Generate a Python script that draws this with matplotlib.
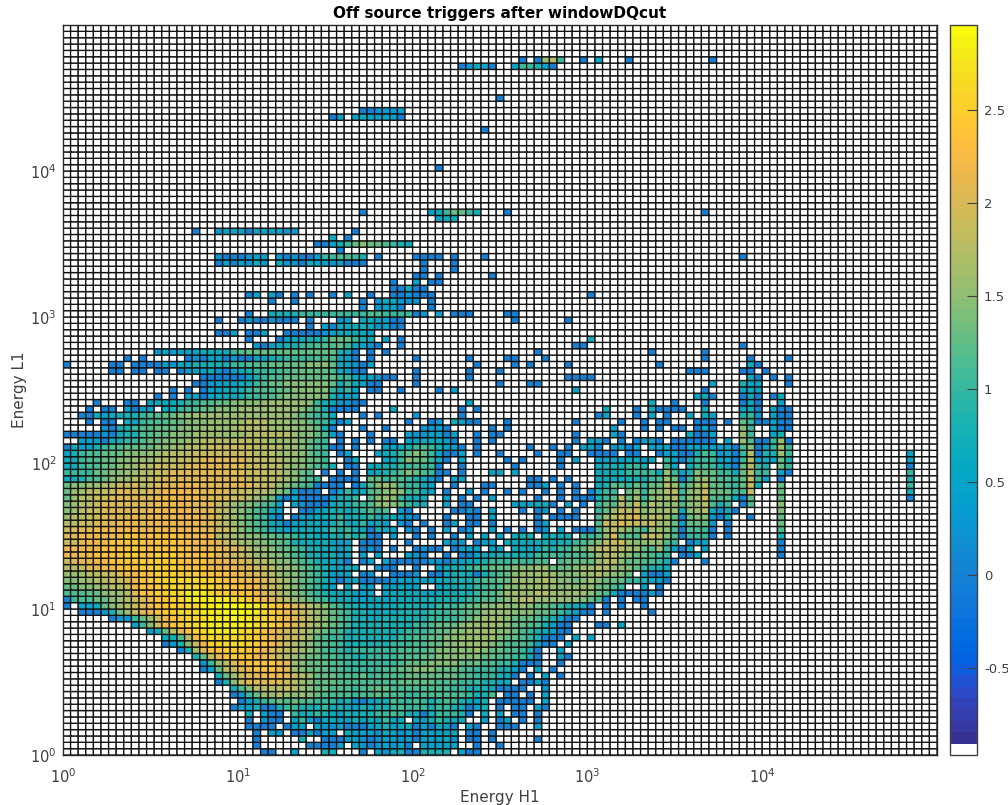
import numpy as np
import matplotlib
matplotlib.use("Agg")
import matplotlib.pyplot as plt
from matplotlib.colors import ListedColormap, Normalize

TITLE = "Off source triggers after windowDQcut"
XLABEL = "Energy H1"
YLABEL = "Energy L1"
NBINS = 115
CB_MIN, CB_MAX = -0.968, 2.957
CB_TICKS = [-0.5, 0, 0.5, 1, 1.5, 2, 2.5]
CB_LABELS = ["-0.5", "0", "0.5", "1", "1.5", "2", "2.5"]
AXIS_TICKS = [1, 10, 100, 1000, 10000]

LEVELS = dict(zip("abcdefghijklmnopqrs",
    [0, .3, .48, .65, .8, 1, 1.15, 1.3, 1.45, 1.6, 1.75, 1.9, 2.05, 2.2, 2.35, 2.5, 2.65, 2.8, 2.95]))

PARULA = [
(0.2081,0.1663,0.5292),(0.2116,0.1898,0.5777),(0.2123,0.2138,0.6270),(0.2081,0.2386,0.6771),
(0.1959,0.2645,0.7279),(0.1707,0.2919,0.7792),(0.1253,0.3242,0.8303),(0.0591,0.3598,0.8683),
(0.0117,0.3875,0.8820),(0.0060,0.4086,0.8828),(0.0165,0.4266,0.8786),(0.0329,0.4430,0.8720),
(0.0498,0.4586,0.8641),(0.0629,0.4737,0.8554),(0.0723,0.4887,0.8467),(0.0779,0.5040,0.8384),
(0.0793,0.5200,0.8312),(0.0749,0.5375,0.8263),(0.0641,0.5570,0.8240),(0.0488,0.5772,0.8228),
(0.0343,0.5966,0.8199),(0.0265,0.6137,0.8135),(0.0239,0.6287,0.8038),(0.0231,0.6418,0.7913),
(0.0228,0.6535,0.7768),(0.0267,0.6642,0.7607),(0.0384,0.6743,0.7436),(0.0590,0.6838,0.7254),
(0.0843,0.6928,0.7062),(0.1133,0.7015,0.6859),(0.1453,0.7098,0.6646),(0.1801,0.7177,0.6424),
(0.2178,0.7250,0.6193),(0.2586,0.7317,0.5954),(0.3022,0.7376,0.5712),(0.3482,0.7424,0.5473),
(0.3953,0.7459,0.5244),(0.4420,0.7481,0.5033),(0.4871,0.7491,0.4840),(0.5300,0.7491,0.4661),
(0.5709,0.7485,0.4494),(0.6099,0.7473,0.4337),(0.6473,0.7456,0.4188),(0.6834,0.7435,0.4044),
(0.7184,0.7411,0.3905),(0.7525,0.7384,0.3768),(0.7858,0.7356,0.3633),(0.8185,0.7327,0.3498),
(0.8507,0.7299,0.3360),(0.8824,0.7274,0.3217),(0.9139,0.7258,0.3063),(0.9450,0.7261,0.2886),
(0.9739,0.7314,0.2666),(0.9938,0.7455,0.2403),(0.9990,0.7653,0.2164),(0.9955,0.7861,0.1967),
(0.9880,0.8066,0.1794),(0.9789,0.8271,0.1633),(0.9697,0.8481,0.1475),(0.9626,0.8705,0.1309),
(0.9589,0.8949,0.1132),(0.9598,0.9218,0.0948),(0.9661,0.9514,0.0755),(0.9763,0.9831,0.0538)]

# rows are counted from the top; (start column, level string)
SPARSE = {
5: [(60, "a.ajkf..a.c...a"), (85, "a")],
6: [(52, "abdca"), (59, "cffeca")],
11: [(57, "a")],
13: [(39, "aabbbc")],
14: [(35, "ac.cdcccca")],
16: [(55, "a")],
22: [(49, "a")],
29: [(39, "a"), (48, "cdfhhfe"), (58, "a"), (84, "a")],
30: [(49, "cdd")],
32: [(17, "a"), (20, "bcccaccccbb"), (38, "a")],
33: [(35, "d.a")],
34: [(33, "aacdfhihhgfed")],
35: [(36, "a")],
36: [(20, "baaabcc.baba"), (32, "acffggfe.a"), (46, "aaaa.a...a"), (89, "a")],
37: [(20, "acacbdb.dbbadccb"), (36, "caaa"), (47, "a"), (51, "a")],
38: [(47, "a"), (51, "a")],
39: [(46, "aa.a"), (56, "a")],
40: [(43, "a..c.aa")],
41: [(43, "aadaa")],
42: [(24, "ac.ca.a.a..a.c..a"), (43, "aabaaa"), (69, "a")],
43: [(27, "a"), (30, "a"), (39, "a.bddbbb.a")],
44: [(39, "a.bcca"), (48, "a")],
45: [(24, "a"), (27, "deeefffffffffggffffab"), (49, "c.aaa"), (58, "aa")],
46: [(20, "a..abaabaaa.a"), (36, "bc.ddcc"), (43, "aa"), (59, "a"), (66, "a")],
47: [(32, "a.cadddedbc"), (43, "aa")],
}

DENSE = {
48: ".......... .......... aac.aac..a aaaabcdddd c",
49: ".......... .......... ....a...ac ddeefhhhfe d.c.a..... .......... .........d",
50: ".......... .......... .....bacde effggghfdc ba..a..... .......... .......aa.",
51: ".......... ..bcccccdd ddfghhhhhh hhhhhheda. a.a....... .......... ..a....... .......a..",
52: "........a. a.....abac cabaaccdef fffgggdca. a.....a... ...a....aa ...a......",
53: "a.....aa.a aaacbddeee eeffggghhh hhiiihdcba c......... ....a....a .a....a... ........a.",
54: "......aa.a a.aa.acccd bacdefffgg hhhhhgdcaa ......a... ...a...a..",
55: ".......... ........aa aaaacefggh hhhhhhffdc cbaa..a... ...a...... ......aaaa",
56: ".......... .......aab cccdefghhi iiiiihdfdc aa....a... .......a.. .aa.......",
57: ".......... ....a.a.ac cddefggghh iiiiifdfc. aa..a....a .c........ .......c..",
58: ".......... ..a.a.ccac dddeffgghi iiiiieccc.",
59: "....a...aa .cdddeffgg hhiiiijjjj jjifedbbaa .......... ...c...... .......... .......d..",
60: "...a.aa.ca cc.defgghh iiijjjjjjj jihgeaaaa. ...d...... ..a.a..... .......... .d...a.daa",
61: "..aadcddee fgghhiijjj jjjjjjjjjj ihgffd...a .a....b... ..a....... .......... ac...a.c.a",
62: "...a.aa.dc fggghhiiij jjjjkkkjjj iihgfdac.. .....a..ab .dcaa...a. .......a.. ...a..a.aa",
63: ".....baeef gghhhiiijj jjjkkkkjjj jiihea...a ..a....bbc a.....a.a. .......... ..c...a.a.",
64: "aaaaabadee gghhiiijjj jjjjkkkkkk jiihgca... a....cbbcc ac..a.aa.. .......a.. ..ca......",
65: "..cccadeff ghhiiijjkk kkkkkkkjjj jihgf.a.a. a.aa.ccddd ca..a.a... .......a.c ca.a.acca.",
66: "adccefgghh hhiijjkkkl lllllkkkkj jihgfaa.a. ..ccdefgfe cca.a..... .a..a.a.cc a.bcac.ccc",
67: "cefgghhhii ijjkkkklll lllllkkkjj jihgf.ac.. .cdefhihfc aac.a..a.. ..a..aa..a aaa.aa..ac",
68: "ddfgghhiij jjkkklllmm mmmmlllkkj jihhf..ad. ..cdfihhfd a.c.....a. a....a.c.. ccccddcd.f",
69: "ddfgghhijj kkllllmmmm mmmmlllkkj iihgfe.aa. ddeeffgffa ..a......a .....a.... deeeffe..g",
70: "ffffhhiijj kkllmmmmmm mmmmlllkkj ihg.a.a.a. cdefgihgfa a.a...cc.c .......... dddeffffdj",
71: "ddegghijjk kllmmmmmmm mmmmlllkkj ihgf.aaaa. hhfggfedba .cc....... .aa.a.a... ddddeeefgj",
72: "hiijjkkllm klmmmnnnmm mmmmmllkji hgfaaaa.ad gijigffdc. .a...aa... .aac.a.a.. dehgfhfhhk",
73: "hjjkkllmmm lmmnnnnnmm mmlllkkjih caaa.acfcd ghijiffdc. a..b.a..a. a..a.a.a.a eff.hifiik",
74: "hjkkllmmmm mmnnnnnnmm mmllkjihca caaaaceef. gijifedd.. c.a.a.c... ..a..a.aaa efgkhjfijj",
75: "ijkklmmmmm mmnnnnnmmm lkjiihgfc. cbaaadeeff gijihfed.. c.aa.....c ccdda.c.a. fhgkilhkji",
76: "ijkllmmmmm mnnnnnnmmm lkjihgfdc. .aacdeedef gfg.ba.... .aaba.c... a.ab.a.a.. fhjlklijjj",
77: "jkkllmmmmn mnnnnnnnmm lkjihgfca. accddefdee feedcba... a..aa.c... ..a.aaaa.. gjkllmjkkj",
78: "kkllmmmnnn mnnnnnnnmm lkjihgfdca ccddcefddf cdc.ba.a.. ac.aa.a... ..ac...... glkmllkljj",
79: "lmmmnnnnnn nnnnnnnnmm llkihgfedc ddddefefed aedc.ba.a. c.ab..c.a. a.ab.c.aaa gjkjihfjji",
80: "mmnnnnnnoo nooooonnnn kkjjiihhgg feeddeefef aa.b..a.a. .a.c.c.c.d ee.dede.ff gjmhggklki",
81: "llmnnnoooo ooooooonnn mlkjjiihhg edddeccc.a aa...a.... cbb.acc.dd dddedeefgh iklljiijjg",
82: "nnnnnoooop ooooooonnn nmmlkjjihh gfeeddcd.a ba.a..abaa .accc.cc.d dddfeffhhj klkkjjhgjf",
83: "nnnnoooopp oopppooooo mmllkjjiih gfeedecd.c .c...cba.. a.aacddeee eeffgfgggh jkkjihhgff",
84: "lmmmnnoooo pppppoooon nnmmlkkjii hgfeddca.a c.caaaaabb accddefffg ffgg.ghhhh jkkihhggfe",
85: "kklmmnnooo ppppppooon nnnmmllkjj ihgfedcdd. .baa..a..c deefgghhhi iijjhhhijj kkjiihfeed",
86: "jjjkkllmnn ooppppppoo oonnmmlkji ihgfeccc.a b..aaab.aa deedaefghi jjjjjiiijj kjiih.caac",
87: "iijjkkllmn oppqqqqqqp poonnnmlkj ihgfecacda aaabcccccd deeefgghhj jjjkjiihij ihhhffecca",
88: "hhiijjkkln ooppqqqqqq ppoonnmlkj ihgfdc.d.c c.ccdcc..c ddeeffggii jjjjjijijj hhgf..c.a.",
89: "ggghhijjkm ooppqqrrrq ppooonmlkj ihgfedddcc c.cddddccd ddeefgghjj jjkkjjjjji hgdaaaaca.",
90: "afgghhijkl mnoopqrrrr rrqqponmlk jihgfeddcc cdcdddddee eeeffgghij kkjjjjjiih ga.a.aa...",
91: "a.ccdhijkl mnooppqqrr ssssrrqpon mlkjigfeed ddddeeeeef ffghhiijii jihhgfedda .a.a..a...",
92: "..aaabehjl mnoppqqqrr rsssrrqpon mlkjihgfee ddddeeeeff fgghhjjjji iihhgfecaa .a.....a..",
93: "......abbf hjlnopqqqr rrsrrqqpon mlkjihgfee ddeeeeeeff ffghijjjih hhgfecaa..",
94: ".........c filnopqqrr rrrrrqqpon mlkjihgfee eeeeeeffgh hhijjjjjih hggecaa... aa.c......",
95: ".......... .cdhkmoqqr rrrqqponml lkjihgfeee eeeeefffgh hiijjjjiih gfedcaa...",
96: ".......... ...degknpq qqqqpponml lkjhgffeee eeeeffgghh iijjjjjihh gfeaaa.c.c",
97: ".......... ...abeilnp qqqqpponml kjihggfeee eeefffgghh iijjjjihgg gfcaa.c...",
98: ".......... .....aejmo opppoonmlk kjihgffeff ffffgggghi iiiijihhgg fea..c....",
99: ".......... .......ehl nopoonnmlk jihhggffee ffffggghhi iiiiihhggf fda..ca...",
100: ".......... ........bf jkmnoooonm jihhhggfff ffffghhhii iihhhggffe aaa..a....",
101: ".......... ........ac hklmnooonm jihhhggfff ffgghhiiih hhggfffeec a.c.a.....",
102: ".......... .......... ehjlmmnnnm lkjhhhgggh fgggghhhhh hhggfffeda .a.c.a....",
103: ".......... .......... aeilmmmmml kjihhhgggg gggghhhhhg ggfffeedd. aaca......",
104: ".......... .......... ..dgikkkkl kjihhgggfg ghhggggggg gffeeedaaa a..b......",
105: ".......... .......... ..abfhjjkj ijihggggfg ghgggffggg gggfeeg.aa .a.c......",
106: ".......... .......... ...acefghg hggfffdeba cdegffgfef gfedce.aaa aa.c......",
107: ".......... .......... ..acceaaef feeefdedce deefgfffef fedace.a.a a.ca......",
108: ".......... .......... ....e.caa. fdefedcede effgfedaef ffea.d.c.a a.a.......",
109: ".......... .......... ....a.baa. cfcaddccec ddfdd.ccef edd..c.ac. a.a.......",
110: ".......... .......... ....aaaa.a cc.cbbcaaa cdecddacad ca.ca..aaa ..c.......",
111: ".......... .......... .....a.cb. aacacc.dcc cbdcbcaccc cd.aa.a...",
112: ".......... .......... .....a.... .e..aaaccb abccbcaccc db.aa.a... ..a.......",
113: ".......... .......... .....a.... ..aaaac.cb abcbca.ccc cc..a..a..",
114: ".......... .......... ......aa.. c...ee...a .cbdeaaeee e.caa",
}

# columns from 80 on, same row count
RIGHT = {
50: ".........a",
51: "....a",
52: "....a.....a....a",
53: "..........da",
54: "..aaa....aa.a",
55: "..........da.a.a",
56: ".....c...ecc...a",
57: "....a....cdc",
58: "...cda...ada.ad",
59: "a...a....ada..c",
60: "aa..d....cda.caa",
61: "..c.dc...efb.caa",
62: "...aaa.a.hfaacaa",
63: "aa.aca...if..caa",
64: "..daac...jf..ce.",
65: "aaaaaa.c.jgaafja",
66: "aaccccccagiacfjf",
67: "caaegfbcafkaeejf",
68: "cadfffccafkcdche",
69: "c.dfgfecahkfe.hf",
70: "fceihhffdhkff.ca",
71: "hafijhggfhlfc.a",
72: "jfhjkhhgfhle..h",
73: "kfijlhhhfgl...h",
74: "kgijlgggdah...h",
75: "jgijkgef.ag...i",
76: "jdijkdbda.....i",
77: "hahiibad..a...h",
78: "hchhhb.a......h",
79: "gaggfa.a......g",
80: "gafffa.a......e",
81: "f.acc.........a",
82: "cad.c.........a",
83: ".aac..........a",
84: "a...a",
}

# the lone column near the right edge: first row, level string
LONE_COL = 111
LONE_ROW = 67
LONE_VALUES = "ccafefda"

grid = np.full((NBINS, NBINS), CB_MIN)
def put(t, c, s):
    for i, ch in enumerate(s):
        if ch != "." and c + i < NBINS:
            grid[t, c + i] = LEVELS[ch]
for t, segs in SPARSE.items():
    for c, s in segs:
        put(t, c, s)
for t, s in DENSE.items():
    put(t, 0, s.replace(" ", ""))
for t, s in RIGHT.items():
    put(t, 80, s)
for i, ch in enumerate(LONE_VALUES):
    put(LONE_ROW + i, LONE_COL, ch)

colors = list(PARULA)
colors[0] = (1, 1, 1)
cmap = ListedColormap(colors)
norm = Normalize(CB_MIN, CB_MAX)

W, H = 1008, 805
fig = plt.figure(figsize=(W / 100, H / 100), dpi=100)
ax = fig.add_axes([63 / W, 1 - 755 / H, 874 / W, 730 / H])
xe = np.logspace(0, 5, NBINS + 1)
ye = np.logspace(0, 5, NBINS + 1)
mesh = ax.pcolormesh(xe, ye, grid[::-1], cmap=cmap, norm=norm, edgecolors="#111111",
                     linewidth=0.95, antialiased=True)
mesh.set_snap(False)
ax.set_xscale("log")
ax.set_yscale("log")
ax.set_xlim(1, 1e5)
ax.set_ylim(1, 1e5)
ax.set_xticks(AXIS_TICKS)
ax.set_yticks(AXIS_TICKS)
ax.minorticks_off()
ax.tick_params(axis="both", direction="in", length=0, labelsize=10.5, labelcolor="#404040")
ax.tick_params(axis="x", pad=9)
ax.tick_params(axis="y", pad=4.5)
for sp in ax.spines.values():
    sp.set_color("#262626")
    sp.set_linewidth(1)
ax.set_title(TITLE, fontsize=11, fontweight="bold", pad=5)
ax.set_xlabel(XLABEL, fontsize=11, color="#404040", labelpad=3)
ax.set_ylabel(YLABEL, fontsize=11, color="#404040", labelpad=2.5)

cax = fig.add_axes([950 / W, 1 - 755 / H, 27 / W, 730 / H])
cb = fig.colorbar(mesh, cax=cax)
cb.set_ticks(CB_TICKS)
cb.set_ticklabels(CB_LABELS)
cb.minorticks_off()
cax.tick_params(direction="in", length=7, width=0.8, color="#404040", labelsize=9.5, labelcolor="#404040", pad=5)
cb.outline.set_edgecolor("#404040")
cb.outline.set_linewidth(1)

fig.savefig("out.png", dpi=100)
